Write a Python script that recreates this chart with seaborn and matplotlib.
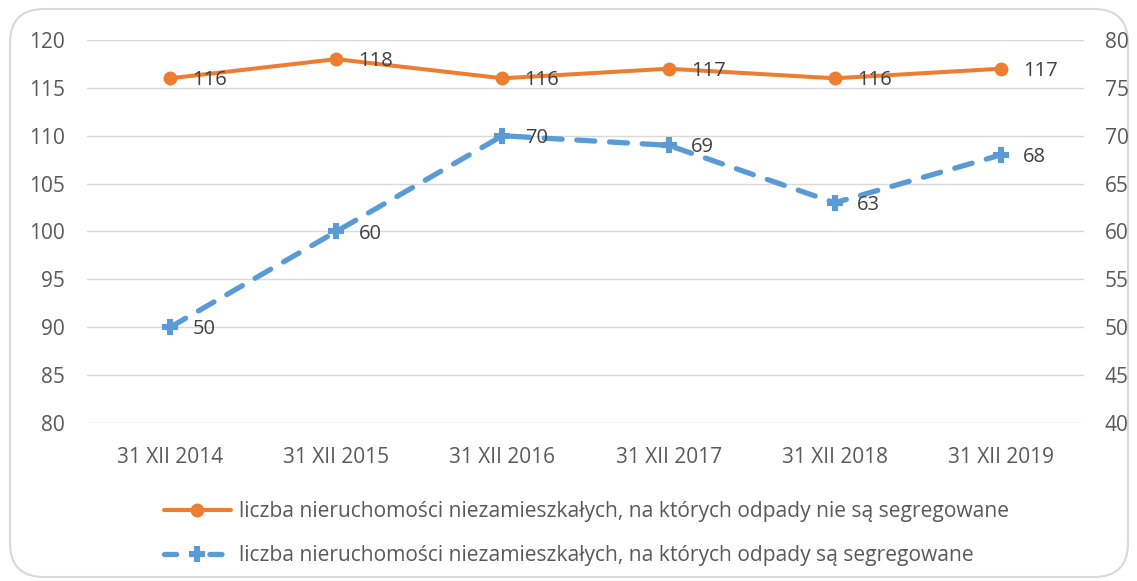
import matplotlib
matplotlib.use("Agg")
import matplotlib.pyplot as plt
import seaborn as sns
import pandas as pd
from matplotlib.patches import FancyBboxPatch
from matplotlib.lines import Line2D

categories = ["31 XII 2014", "31 XII 2015", "31 XII 2016", "31 XII 2017", "31 XII 2018", "31 XII 2019"]
not_segregated = [116, 118, 116, 117, 116, 117]
segregated = [50, 60, 70, 69, 63, 68]
label_a = "liczba nieruchomości niezamieszkałych, na których odpady nie są segregowane"
label_b = "liczba nieruchomości niezamieszkałych, na których odpady są segregowane"

sns.set_theme(style="white")
plt.rcParams['font.family'] = ['Open Sans', 'DejaVu Sans']
TXT = "#595959"
ORANGE = "#ED7D31"
BLUE = "#5B9BD5"

fig = plt.figure(figsize=(11.37, 5.81), dpi=100)
fig.patch.set_facecolor("white")
border = FancyBboxPatch((10/1137, 4/581), 1118/1137, 568/581,
                        boxstyle="round,pad=0,rounding_size=0.03",
                        transform=fig.transFigure, facecolor="white",
                        edgecolor="#d9d9d9", linewidth=1.5, mutation_aspect=1137/581,
                        zorder=-10)
fig.patches.append(border)

ax = fig.add_axes([87/1137, 1-423/581, (1084-87)/1137, (423-40)/581])
ax2 = ax.twinx()
ax.set_facecolor("none")
ax2.set_facecolor("none")

x = list(range(len(categories)))
df = pd.DataFrame({"x": x, "a": not_segregated, "b": segregated})

for yv in range(80, 121, 5):
    ax.axhline(yv, color="#d9d9d9", linewidth=1.0, zorder=0)

sns.lineplot(data=df, x="x", y="a", ax=ax, color=ORANGE, linewidth=2.9,
             marker="o", markersize=10, markeredgewidth=0, zorder=3)
sns.lineplot(data=df, x="x", y="b", ax=ax2, color=BLUE, linewidth=3.8,
             marker="P", markersize=10, markeredgewidth=1.5, markeredgecolor=BLUE,
             zorder=3)
bl = ax2.lines[0]
bl.set_dashes([3.4, 2.8])
bl.set_dash_capstyle("round")
bl.set_dash_joinstyle("round")

for xi, v in zip(x, not_segregated):
    ax.annotate(str(v), (xi, v), xytext=(16, -1.5), textcoords="offset points",
                ha="left", va="center", fontsize=14.5, color="#404040", zorder=5)
for xi, v in zip(x, segregated):
    ax2.annotate(str(v), (xi, v), xytext=(16, -1.5), textcoords="offset points",
                 ha="left", va="center", fontsize=14.5, color="#404040", zorder=5)

ax.set_xlim(-0.5, 5.5)
ax.set_ylim(80, 120)
ax2.set_ylim(40, 80)
ax.set_yticks(range(80, 121, 5))
ax2.set_yticks(range(40, 81, 5))
ax.set_xticks(x)
ax.set_xticklabels(categories)
ax.set_xlabel("")
ax.set_ylabel("")
ax2.set_ylabel("")
for a in (ax, ax2):
    for s in a.spines.values():
        s.set_visible(False)
    a.tick_params(axis="both", length=0, labelsize=15, labelcolor=TXT)
ax.tick_params(axis="y", pad=16)
ax2.tick_params(axis="y", pad=15)
ax.tick_params(axis="x", pad=17)

handles = [
    Line2D([0], [0], color=ORANGE, linewidth=2.9, marker="o", markersize=10, markeredgewidth=0),
    Line2D([0], [0], color=BLUE, linewidth=3.8, marker="P", markersize=10, markeredgewidth=1.5,
           markeredgecolor=BLUE, linestyle=(0, (2.3, 6.3)), dash_capstyle="round"),
]
leg = fig.legend(handles, [label_a, label_b], loc="upper left",
                 bbox_to_anchor=(145/1137, 1-482/581), frameon=False,
                 fontsize=15.1, labelcolor=TXT, handlelength=3.2,
                 handletextpad=0.4, labelspacing=1.1)

fig.savefig("out.png", dpi=100, facecolor="white")
